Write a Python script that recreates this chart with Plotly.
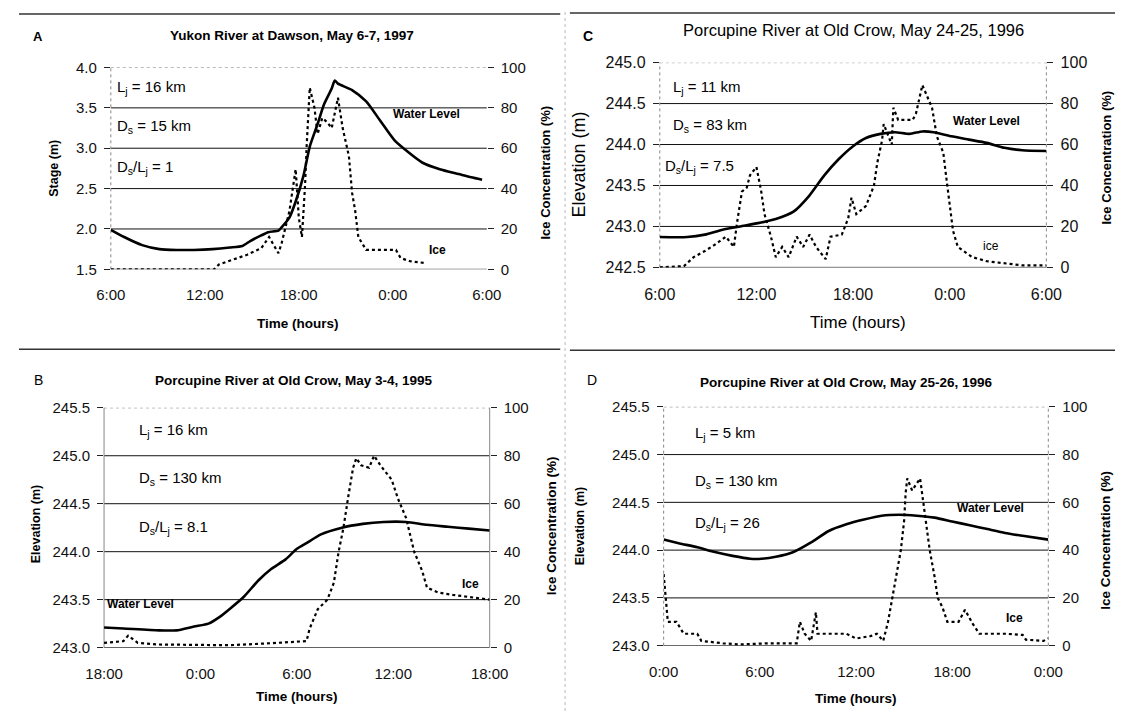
import plotly.graph_objects as go

W, H = 1134, 720
FONT = "Liberation Sans, Arial, sans-serif"

# ---------------- data ----------------
# Panel A: Yukon River at Dawson, May 6-7, 1997 (hours since 0:00 May 6)
A_wl_t = [6, 6.85, 8.0, 9.1, 10.2, 11.3, 12.5, 13.6, 14.4, 14.9, 15.6, 16.05, 16.7, 16.9, 17.4, 17.8,
          18.3, 18.7, 19.2, 19.6, 20.1, 20.3, 20.5, 21.4, 22.3, 23.2, 24.1, 24.8, 25.9, 27.0, 28.2, 29.0, 29.7]
A_wl = [1.99, 1.9, 1.8, 1.75, 1.74, 1.74, 1.75, 1.77, 1.79, 1.85, 1.92, 1.96, 1.98, 2.02, 2.14, 2.34,
        2.66, 3.02, 3.3, 3.54, 3.74, 3.84, 3.8, 3.72, 3.58, 3.34, 3.1, 2.98, 2.82, 2.74, 2.68, 2.64, 2.61]
A_ice_t = [6, 12.6, 12.9, 13.8, 14.7, 15.6, 16.1, 16.7, 16.9, 17.4, 17.8, 18.0, 18.2, 18.4, 18.5, 18.7,
           19.0, 19.2, 19.5, 19.8, 20.1, 20.5, 20.8, 21.2, 21.4, 21.6, 21.8, 22.3, 24.2, 24.5, 25.1, 26.0]
A_ice = [0, 0, 2.4, 4.8, 7.2, 10.4, 16, 8, 12.8, 28.8, 49.6, 25.6, 16, 41.6, 60.8, 90,
         80, 67, 75, 73, 70, 85, 70, 56, 38, 29, 16, 9.6, 9.6, 5.6, 4, 3.2]

# Panel C: Porcupine River at Old Crow, May 24-25, 1996
C_wl_t = [6, 7.7, 8.8, 9.9, 11.0, 12.1, 13.2, 14.3, 15.3, 16.2, 17.1, 18.0, 18.8, 19.7, 20.6, 21.5,
          22.3, 23.0, 24.1, 25.2, 26.3, 27.4, 28.5, 30.0]
C_wl = [242.87, 242.87, 242.9, 242.96, 243.0, 243.04, 243.09, 243.18, 243.38, 243.62, 243.82, 243.98,
        244.08, 244.13, 244.15, 244.13, 244.16, 244.15, 244.1, 244.06, 244.02, 243.96, 243.93, 243.92]
C_ice_t = [6, 7.5, 8.1, 8.8, 9.4, 10.1, 10.6, 10.8, 11.1, 11.4, 11.6, 12.0, 12.3, 12.5, 12.9, 13.2,
           13.6, 14.0, 14.5, 14.9, 15.3, 15.7, 16.3, 16.6, 17.3, 17.7, 17.9, 18.2, 18.8, 19.3, 19.5,
           19.8, 19.9, 20.4, 20.5, 20.8, 21.7, 21.9, 22.3, 22.6, 22.9, 23.2, 23.6, 23.8, 24.0, 24.2,
           24.5, 25.4, 26.3, 28.5, 30.0]
C_ice = [0, 0.6, 5, 8, 11, 15, 10, 22, 37, 39, 45, 49, 37, 26, 15, 5,
         10, 5, 15, 10, 16, 10, 4, 15, 16, 24, 34, 26, 30, 40, 51,
         62, 70, 60, 78, 72, 72, 75, 89, 83, 78, 64, 56, 43, 30, 18,
         10, 5, 3, 1, 1]

# Panel B: Porcupine River at Old Crow, May 3-4, 1995 (hours since 0:00 May 3)
B_wl_t = [18, 19.2, 21.4, 22.5, 23.6, 24.5, 25.2, 25.8, 26.7, 27.6, 28.4, 29.3, 30.0, 30.6, 31.5,
          32.8, 34.1, 35.4, 36.8, 38.1, 39.4, 40.7, 42]
B_wl = [243.21, 243.2, 243.18, 243.18, 243.22, 243.25, 243.32, 243.4, 243.53, 243.7, 243.82, 243.92,
        244.03, 244.09, 244.18, 244.25, 244.29, 244.31, 244.31, 244.28, 244.26, 244.24, 244.22]
B_ice_t = [18, 19.2, 19.5, 20.1, 21.4, 23.6, 25.8, 28.0, 30.6, 30.8, 31.3, 31.9, 32.3, 32.6, 32.9,
           33.2, 33.5, 33.7, 34.0, 34.5, 34.8, 35.2, 35.9, 36.3, 36.8, 37.3, 37.8, 38.1, 38.8, 39.7,
           41.0, 42]
B_ice = [2, 2.7, 5, 2, 1.3, 1.3, 1, 1.7, 2.7, 8, 16, 20, 27, 40, 50,
         63, 75, 79, 76, 75, 80, 76, 70, 62, 54, 40, 32, 25, 23, 22,
         21, 20]

# Panel D: Porcupine River at Old Crow, May 25-26, 1996 (hours since 0:00 May 25)
D_wl_t = [0, 1.0, 2.1, 3.2, 4.3, 5.4, 6.1, 7.0, 8.1, 9.2, 10.3, 11.4, 12.5, 13.6, 14.7, 15.8, 16.9,
          18.0, 19.1, 20.2, 21.3, 22.4, 24]
D_wl = [244.11, 244.07, 244.03, 243.98, 243.94, 243.91, 243.91, 243.93, 243.98, 244.08, 244.2, 244.27,
        244.32, 244.36, 244.37, 244.36, 244.34, 244.3, 244.26, 244.22, 244.18, 244.15, 244.11]
D_ice_t = [0, 0.15, 0.26, 0.8, 1.25, 2.1, 2.35, 3.7, 4.8, 6.5, 8.3, 8.5, 8.8, 9.2, 9.5, 9.6, 11.4,
           12.0, 12.9, 13.3, 13.7, 14.0, 14.3, 14.5, 14.8, 15.0, 15.1, 15.2, 15.5, 16.0, 16.2, 16.4,
           16.6, 16.9, 17.1, 17.4, 17.7, 18.4, 18.8, 19.3, 19.7, 21.3, 22.4, 22.6, 23.7, 24]
D_ice = [30, 20, 10, 10, 5, 5, 2, 1, 0.5, 1, 1, 10, 5, 2, 14, 5, 5,
         3, 4, 5, 2, 10, 21, 30, 40, 52, 64, 70, 65, 70, 60, 50,
         40, 29, 20, 16, 10, 10, 15, 9, 5, 5, 4.5, 2.5, 2, 3]

# ticks
ICE_TICKS = [0, 20, 40, 60, 80, 100]
A_Y_TICKS = [1.5, 2.0, 2.5, 3.0, 3.5, 4.0]
C_Y_TICKS = [242.5, 243.0, 243.5, 244.0, 244.5, 245.0]
B_Y_TICKS = [243.0, 243.5, 244.0, 244.5, 245.0, 245.5]
D_Y_TICKS = [243.0, 243.5, 244.0, 244.5, 245.0, 245.5]
A_X_TICKS = [6, 12, 18, 24, 30]
C_X_TICKS = [6, 12, 18, 24, 30]
B_X_TICKS = [18, 24, 30, 36, 42]
D_X_TICKS = [0, 6, 12, 18, 24]
A_X_TEXT = ["6:00", "12:00", "18:00", "0:00", "6:00"]
C_X_TEXT = ["6:00", "12:00", "18:00", "0:00", "6:00"]
B_X_TEXT = ["18:00", "0:00", "6:00", "12:00", "18:00"]
D_X_TEXT = ["0:00", "6:00", "12:00", "18:00", "0:00"]

# ---------------- layout of panels (pixel boxes: left, top, right, bottom) ----------------
panels = [
    dict(box=(95, 60, 484, 267), t=A_wl_t, wl=A_wl, it=A_ice_t, ice=A_ice,
         xt=A_X_TICKS, xtt=A_X_TEXT, yt=A_Y_TICKS, yfmt=".1f",
         left="dot", right=None, tick_size=15),
    dict(box=(663, 55, 1063, 265), t=C_wl_t, wl=C_wl, it=C_ice_t, ice=C_ice,
         xt=C_X_TICKS, xtt=C_X_TEXT, yt=C_Y_TICKS, yfmt=".1f",
         left="dot", right="dot", tick_size=16),
    dict(box=(88, 409, 487, 655), t=B_wl_t, wl=B_wl, it=B_ice_t, ice=B_ice,
         xt=B_X_TICKS, xtt=B_X_TEXT, yt=B_Y_TICKS, yfmt=".1f",
         left="solid", right="solid", tick_size=15),
    dict(box=(667, 408, 1065, 653), t=D_wl_t, wl=D_wl, it=D_ice_t, ice=D_ice,
         xt=D_X_TICKS, xtt=D_X_TEXT, yt=D_Y_TICKS, yfmt=".1f",
         left="dot", right="dot", tick_size=15),
]

fig = go.Figure()
layout = dict(width=W, height=H, autosize=False, margin=dict(l=0, r=0, t=0, b=0),
              paper_bgcolor="white", plot_bgcolor="white", showlegend=False,
              font=dict(family=FONT, color="black"))
shapes = []
annotations = []


def px(x):
    return x / W


def py(y):
    return 1 - y / H


for i, p in enumerate(panels):
    n = i + 1
    xa = "xaxis" if n == 1 else f"xaxis{n}"
    xs = "x" if n == 1 else f"x{n}"
    yl_i, yr_i = 2 * i + 1, 2 * i + 2
    yla = "yaxis" if yl_i == 1 else f"yaxis{yl_i}"
    yls = "y" if yl_i == 1 else f"y{yl_i}"
    yra = f"yaxis{yr_i}"
    yrs = f"y{yr_i}"
    l, t, r, b = p["box"]
    xd = [px(l), px(r)]
    yd = [py(b), py(t)]
    yt = p["yt"]
    xt = p["xt"]

    layout[xa] = dict(domain=xd, anchor=yls, range=[xt[0], xt[-1]], tickmode="array",
                      tickvals=xt, ticktext=p["xtt"], showgrid=False, zeroline=False,
                      showline=False, ticks="outside", ticklen=12, tickcolor="rgba(0,0,0,0)",
                      tickfont=dict(size=p["tick_size"], family=FONT, color="#111"))
    layout[yla] = dict(domain=yd, anchor=xs, range=[yt[0], yt[-1]], tickmode="array",
                       tickvals=yt, tickformat=p["yfmt"], showgrid=False, zeroline=False,
                       showline=False, ticks="outside", ticklen=6, tickwidth=1, tickcolor="#222",
                       ticklabelstandoff=4,
                       tickfont=dict(size=p["tick_size"], family=FONT, color="#111"))
    layout[yra] = dict(overlaying=yls, anchor=xs, side="right", range=[0, 100], tickmode="array",
                       tickvals=ICE_TICKS, showgrid=False, zeroline=False, showline=False,
                       ticks="outside", ticklen=6, tickwidth=1, tickcolor="#222",
                       ticklabelstandoff=4,
                       tickfont=dict(size=p["tick_size"], family=FONT, color="#111"))

    # horizontal gridlines at each tick (top one dotted)
    for k, v in enumerate(yt):
        top = k == len(yt) - 1
        shapes.append(dict(type="line", xref=f"{xs} domain", yref=yls, x0=0, x1=1, y0=v, y1=v,
                           line=dict(color="#777" if top else "#111", width=1,
                                     dash="dot" if top else "solid"), layer="below"))
    # vertical axis lines
    if p["left"]:
        shapes.append(dict(type="line", xref=f"{xs} domain", yref=f"{yls} domain", x0=0, x1=0,
                           y0=0, y1=1, line=dict(color="#888", width=1,
                                                  dash="dot" if p["left"] == "dot" else "solid"),
                           layer="below"))
    if p["right"]:
        shapes.append(dict(type="line", xref=f"{xs} domain", yref=f"{yls} domain", x0=1, x1=1,
                           y0=0, y1=1, line=dict(color="#888", width=1,
                                                  dash="dot" if p["right"] == "dot" else "solid"),
                           layer="below"))

    fig.add_trace(go.Scatter(x=p["t"], y=p["wl"], xaxis=xs, yaxis=yls, mode="lines",
                             line=dict(color="black", width=2.6, shape="spline", smoothing=0.6),
                             hoverinfo="skip"))
    fig.add_trace(go.Scatter(x=p["it"], y=p["ice"], xaxis=xs, yaxis=yrs, mode="lines",
                             line=dict(color="black", width=2.2, dash="dot"),
                             hoverinfo="skip"))


def ann(text, x, y, size=14, bold=False, anchor="left", angle=0, yanchor="middle"):
    if bold:
        text = f"<b>{text}</b>"
    annotations.append(dict(text=text, x=px(x), y=py(y), xref="paper", yref="paper",
                            xanchor=anchor, yanchor=yanchor, showarrow=False, textangle=angle,
                            font=dict(family=FONT, size=size, color="black")))


# panel letters and titles
ann("A", 12, 28, 13, True)
ann("Yukon River at Dawson, May 6-7, 1997", 282, 27, 13.5, True, "center")
ann("C", 581, 28, 14, True)
ann("Porcupine River at Old Crow, May 24-25, 1996", 863, 22, 16.5, False, "center")
ann("B", 13, 381, 14, False)
ann("Porcupine River at Old Crow, May 3-4, 1995", 285, 381, 13.5, True, "center")
ann("D", 586, 381, 14, False)
ann("Porcupine River at Old Crow, May 25-26, 1996", 856, 383, 13.5, True, "center")

# axis titles
ann("Stage (m)", 36, 163, 12.5, True, "center", -90)
ann("Ice Concentration (%)", 545, 168, 13, True, "center", -90)
ann("Time (hours)", 289, 323, 13.5, True, "center")
ann("Elevation (m)", 579, 160, 18, False, "center", -90)
ann("Ice Concentration (%)", 1125, 152, 13, True, "center", -90)
ann("Time (hours)", 868, 322, 17, False, "center")
ann("Elevation (m)", 17, 528, 12.5, True, "center", -90)
ann("Ice Concentration (%)", 551, 530, 13.5, True, "center", -90)
ann("Time (hours)", 288, 705, 13.5, True, "center")
ann("Elevation (m)", 580, 530, 12.5, True, "center", -90)
ann("Ice Concentration (%)", 1124, 545, 13.5, True, "center", -90)
ann("Time (hours)", 866, 707, 13.5, True, "center")

# in-plot labels
ann("L<sub>j</sub> = 16 km", 99, 80, 15)
ann("D<sub>s</sub> = 15 km", 99, 121, 15)
ann("D<sub>s</sub>/L<sub>j</sub> = 1", 99, 163, 15)
ann("Water Level", 385, 108, 12, True)
ann("Ice", 422, 247, 12, True)

ann("L<sub>j</sub> = 11 km", 675, 80, 15)
ann("D<sub>s</sub> = 83 km", 675, 119, 15)
ann("D<sub>s</sub>/L<sub>j</sub> = 7.5", 666, 162, 15)
ann("Water Level", 964, 115, 12, True)
ann("ice", 995, 243, 12, False)

ann("L<sub>j</sub> = 16 km", 122, 432, 15)
ann("D<sub>s</sub> = 130 km", 122, 482, 15)
ann("D<sub>s</sub>/L<sub>j</sub> = 8.1", 122, 532, 15)
ann("Water Level", 89, 610, 12, True)
ann("Ice", 456, 590, 12, True)

ann("L<sub>j</sub> = 5 km", 697, 435, 15)
ann("D<sub>s</sub> = 130 km", 697, 485, 15)
ann("D<sub>s</sub>/L<sub>j</sub> = 26", 697, 528, 15)
ann("Water Level", 968, 512, 12, True)
ann("Ice", 1019, 625, 12, True)

# page separator lines
for (x0, x1, y) in [(0, 560, 5), (570, 1134, 4), (0, 560, 349), (570, 1134, 350)]:
    shapes.append(dict(type="line", xref="paper", yref="paper", x0=px(x0), x1=px(x1),
                       y0=py(y), y1=py(y), line=dict(color="#333", width=1.5)))
shapes.append(dict(type="line", xref="paper", yref="paper", x0=px(565), x1=px(565),
                   y0=0, y1=1, line=dict(color="#bbb", width=1, dash="dot")))

layout["shapes"] = shapes
layout["annotations"] = annotations
fig.update_layout(**layout)
fig.write_html("out.html", config={"displayModeBar": False},
               post_script="document.body.style.margin='0';document.body.style.overflow='hidden';")
